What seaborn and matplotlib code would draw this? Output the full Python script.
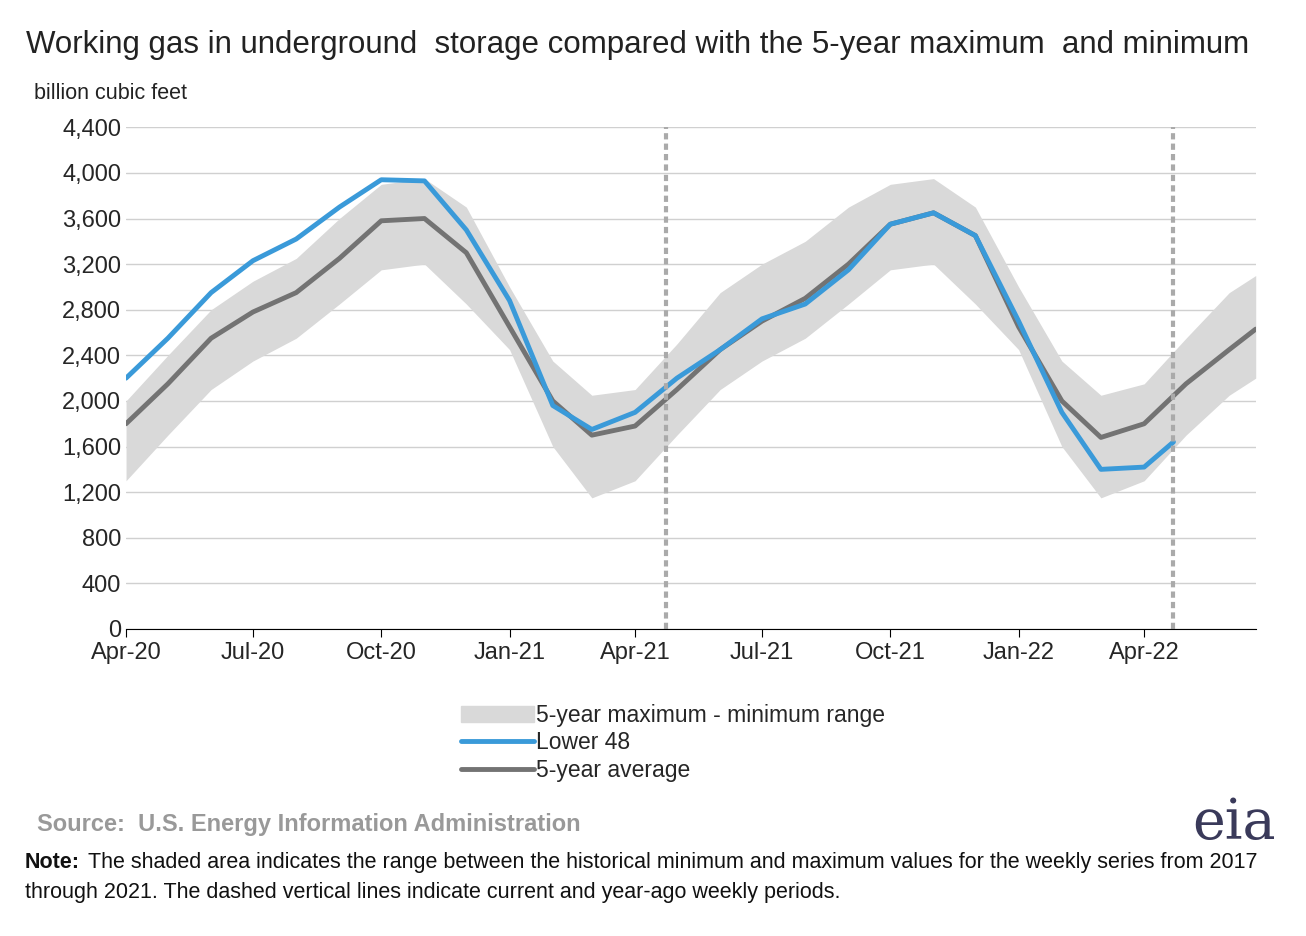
import matplotlib
matplotlib.use("Agg")
import matplotlib.pyplot as plt
import matplotlib.dates as mdates
import seaborn as sns
import pandas as pd
from matplotlib.patches import Patch
from matplotlib.lines import Line2D

months = pd.date_range("2020-04-01", "2022-06-01", freq="MS").tolist() + [pd.Timestamp("2022-06-20")]
max_vals = [2000,2400,2800,3050,3250,3600,3900,3950,3700,3000,2350,2050,
            2100,2500,2950,3200,3400,3700,3900,3950,3700,3000,2350,2050,
            2150,2550,2950,3100]
min_vals = [1300,1700,2100,2350,2550,2850,3150,3200,2850,2450,1600,1150,
            1300,1700,2100,2350,2550,2850,3150,3200,2850,2450,1600,1150,
            1300,1700,2050,2200]
avg_vals = [1800,2150,2550,2780,2950,3250,3580,3600,3300,2650,2000,1700,
            1780,2100,2450,2700,2900,3200,3550,3650,3450,2650,2000,1680,
            1800,2150,2450,2630]
l48_dates = pd.date_range("2020-04-01", "2022-04-01", freq="MS").tolist() + [pd.Timestamp("2022-04-22")]
l48_vals = [2200,2550,2950,3230,3420,3700,3940,3930,3500,2880,1960,1750,
            1900,2200,2450,2720,2850,3150,3550,3650,3450,2700,1900,1400,
            1420,1640]
vlines = [pd.Timestamp("2021-04-23"), pd.Timestamp("2022-04-22")]
xticks = pd.date_range("2020-04-01", "2022-04-01", freq="3MS")

sns.set_style("white")
plt.rcParams['font.family'] = ['Liberation Sans', 'DejaVu Sans']
fig = plt.figure(figsize=(13.06, 9.36), dpi=100)
ax = fig.add_axes([0.0965, 0.328, 0.865, 0.536])

ax.fill_between(months, min_vals, max_vals, color="#d9d9d9", lw=0)
sns.lineplot(x=months, y=avg_vals, ax=ax, color="#737373", lw=3.5)
sns.lineplot(x=l48_dates, y=l48_vals, ax=ax, color="#3a9ad9", lw=3.5)
for v in vlines:
    ax.axvline(v, color="#aaaaaa", ls=(0, (1.5, 1)), lw=3)

ax.set_ylim(0, 4400)
ax.set_yticks(range(0, 4401, 400))
ax.set_yticklabels([f"{v:,}" for v in range(0, 4401, 400)])
ax.set_xlim(pd.Timestamp("2020-04-01"), pd.Timestamp("2022-06-20"))
ax.set_xticks(xticks)
ax.xaxis.set_major_formatter(mdates.DateFormatter("%b-%y"))
ax.yaxis.grid(True, color="#d0d0d0", lw=1)
for s in ["top", "right", "left"]:
    ax.spines[s].set_visible(False)
ax.spines["bottom"].set_color("black")
ax.tick_params(axis="x", length=6, color="black", direction="out", labelsize=17, bottom=True)
ax.tick_params(axis="y", length=0, labelsize=17)
ax.set_xlabel(""); ax.set_ylabel("")

fig.text(0.02, 0.952, "Working gas in underground  storage compared with the 5-year maximum  and minimum",
         fontsize=22.5, va="center", color="#222222")
fig.text(0.026, 0.900, "billion cubic feet", fontsize=15.5, va="center", color="#222222")

handles = [Patch(color="#d9d9d9"), Line2D([], [], color="#3a9ad9", lw=3.5),
           Line2D([], [], color="#737373", lw=3.5)]
labels = ["5-year maximum - minimum range", "Lower 48", "5-year average"]
fig.legend(handles, labels, loc="upper left", bbox_to_anchor=(0.337, 0.27), frameon=False,
           fontsize=16.5, handlelength=3.2, labelspacing=0.2, handletextpad=0.1)

fig.text(0.028, 0.119, "Source:  U.S. Energy Information Administration", fontsize=17,
         color="#999999", fontweight="bold", va="center")
fig.text(0.945, 0.120, "eia", fontsize=40, family="DejaVu Serif", color="#3a3a5a", ha="center", va="center")
t = fig.text(0.019, 0.079, "Note:", fontsize=15.5, fontweight="bold", va="center", color="#111111")
fig.text(0.067, 0.079, "The shaded area indicates the range between the historical minimum and maximum values for the weekly series from 2017",
         fontsize=15.5, va="center", color="#111111")
fig.text(0.019, 0.046, "through 2021. The dashed vertical lines indicate current and year-ago weekly periods.",
         fontsize=15.5, va="center", color="#111111")
fig.savefig("out.png", dpi=100, facecolor="white")
